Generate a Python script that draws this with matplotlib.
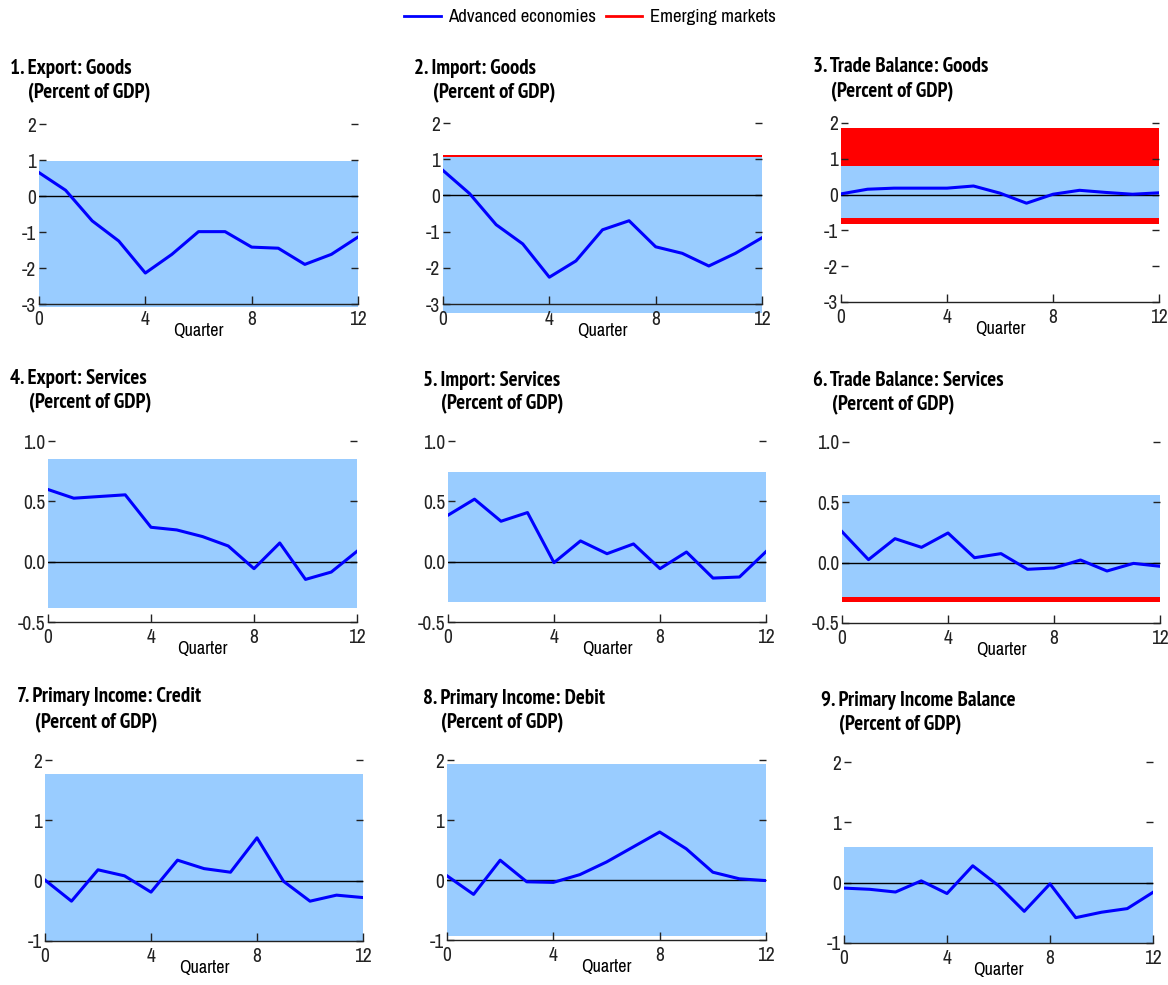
import matplotlib
matplotlib.use("Agg")
import matplotlib.pyplot as plt
from matplotlib.lines import Line2D

plt.rcParams['font.family'] = ['Liberation Sans Narrow', 'Arimo Narrow', 'Archivo Narrow',
                               'PT Sans Narrow', 'Roboto Condensed', 'Liberation Sans', 'DejaVu Sans']
TITLE_FAMILY = ['PT Sans Narrow', 'Liberation Sans Narrow', 'Liberation Sans', 'DejaVu Sans']

quarters = list(range(13))

titles = [
    "1. Export: Goods", "2. Import: Goods", "3. Trade Balance: Goods",
    "4. Export: Services", "5. Import: Services", "6. Trade Balance: Services",
    "7. Primary Income: Credit", "8. Primary Income: Debit", "9. Primary Income Balance",
]
subtitle = "(Percent of GDP)"

adv_export_goods = [0.65, 0.16, -0.69, -1.25, -2.14, -1.62, -0.99, -0.99, -1.42, -1.45, -1.90, -1.62, -1.14]
adv_import_goods = [0.69, 0.05, -0.81, -1.34, -2.26, -1.81, -0.95, -0.70, -1.42, -1.60, -1.95, -1.60, -1.17]
adv_tb_goods = [0.02, 0.15, 0.18, 0.18, 0.18, 0.24, 0.04, -0.24, 0.01, 0.12, 0.06, 0.01, 0.05]
adv_export_services = [0.598, 0.526, 0.540, 0.554, 0.285, 0.263, 0.208, 0.130, -0.058, 0.155, -0.147, -0.086, 0.086]
adv_import_services = [0.385, 0.518, 0.335, 0.407, -0.008, 0.172, 0.066, 0.147, -0.058, 0.080, -0.136, -0.127, 0.083]
adv_tb_services = [0.257, 0.025, 0.199, 0.127, 0.246, 0.041, 0.075, -0.055, -0.044, 0.022, -0.069, -0.006, -0.030]
adv_pi_credit = [0.01, -0.34, 0.18, 0.08, -0.19, 0.34, 0.20, 0.14, 0.71, -0.01, -0.34, -0.24, -0.28]
adv_pi_debit = [0.07, -0.24, 0.33, -0.03, -0.04, 0.09, 0.30, 0.55, 0.80, 0.52, 0.13, 0.02, -0.01]
adv_pi_balance = [-0.09, -0.11, -0.155, 0.03, -0.18, 0.28, -0.05, -0.475, -0.02, -0.58, -0.49, -0.43, -0.16]

adv_series = [adv_export_goods, adv_import_goods, adv_tb_goods,
              adv_export_services, adv_import_services, adv_tb_services,
              adv_pi_credit, adv_pi_debit, adv_pi_balance]

# Confidence bands (lower, upper)
adv_band_lo = [-3.07, -3.25, -0.64, -0.382, -0.332, -0.285, -1.02, -0.94, -1.0]
adv_band_hi = [0.97, 1.07, 0.80, 0.853, 0.745, 0.561, 1.77, 1.93, 0.59]
em_band_lo = [None, -3.25, -0.81, None, None, -0.323, None, None, None]
em_band_hi = [None, 1.115, 1.86, None, None, 0.50, None, None, None]

yticks_list = [
    [-3, -2, -1, 0, 1, 2], [-3, -2, -1, 0, 1, 2], [-3, -2, -1, 0, 1, 2],
    [-0.5, 0.0, 0.5, 1.0], [-0.5, 0.0, 0.5, 1.0], [-0.5, 0.0, 0.5, 1.0],
    [-1, 0, 1, 2], [-1, 0, 1, 2], [-1, 0, 1, 2],
]
xticks = [0, 4, 8, 12]

W, H = 1168, 985
# layout in pixels: x0, x12, y_top, y_bottom
axes_px = [
    (39, 358, 124, 304), (443, 762, 123, 304), (841, 1159, 123, 302),
    (48, 357, 441, 622), (448, 766, 441, 622), (842, 1160, 442, 623),
    (45, 363, 760, 941), (447, 766, 760, 940), (844, 1153, 762, 943),
]
title_px = [
    (10, 68, 28, 93), (414, 68, 433, 93), (813, 67, 831, 92),
    (10, 379, 29, 403), (423, 380, 441, 404), (813, 381, 832, 405),
    (17, 697, 35, 723), (423, 699, 441, 723), (821, 701, 839, 725),
]

band_color = '#99CCFF'
adv_color = '#0000FF'
em_color = '#FF0000'

fig = plt.figure(figsize=(W / 100, H / 100), dpi=100)

for i in range(9):
    x0, x1, yt, yb = axes_px[i]
    ax = fig.add_axes([x0 / W, 1 - yb / H, (x1 - x0) / W, (yb - yt) / H])
    yt_list = yticks_list[i]
    ax.set_xlim(0, 12)
    ax.set_ylim(yt_list[0], yt_list[-1])
    if em_band_lo[i] is not None:
        ax.fill_between(quarters, em_band_lo[i], em_band_hi[i], color=em_color,
                        linewidth=0, clip_on=False, zorder=1)
    ax.fill_between(quarters, adv_band_lo[i], adv_band_hi[i], color=band_color,
                    linewidth=0, clip_on=False, zorder=1.5)
    ax.axhline(0, color='black', linewidth=1.0, zorder=2)
    ax.plot(quarters, adv_series[i], color=adv_color, linewidth=2.2, zorder=3)

    for s in ['top', 'left', 'right']:
        ax.spines[s].set_visible(False)
    ax.spines['bottom'].set_color('#222222')
    ax.spines['bottom'].set_linewidth(1.0)
    ax.set_xticks(xticks)
    ax.set_yticks(yt_list)
    if yt_list[-1] < 1.5:
        ax.set_yticklabels([f"{v:.1f}" for v in yt_list])
    else:
        ax.set_yticklabels([f"{v:d}" for v in yt_list])
    ax.tick_params(axis='y', direction='in', left=True, right=True, length=5,
                   width=1.0, labelsize=14, pad=2, colors='#222222')
    ax.tick_params(axis='x', direction='in', length=6, width=1.0, labelsize=14,
                   pad=4, colors='#222222')
    ax.set_xlabel('Quarter', fontsize=13, labelpad=-4)
    ax.patch.set_visible(False)

    tx, ty, sx, sy = title_px[i]
    fig.text(tx / W, 1 - ty / H, titles[i], fontsize=15, fontweight='bold',
             family=TITLE_FAMILY, ha='left', va='center')
    fig.text(sx / W, 1 - sy / H, subtitle, fontsize=15, fontweight='bold',
             family=TITLE_FAMILY, ha='left', va='center')

handles = [Line2D([], [], color=adv_color, linewidth=2),
           Line2D([], [], color=em_color, linewidth=2)]
fig.legend(handles, ['Advanced economies', 'Emerging markets'], loc='center',
           bbox_to_anchor=(590 / W, 1 - 17 / H), ncol=2, frameon=False,
           fontsize=13.5, handlelength=1.95, columnspacing=0.5, handletextpad=0.4)

fig.savefig('out.png', dpi=100)
